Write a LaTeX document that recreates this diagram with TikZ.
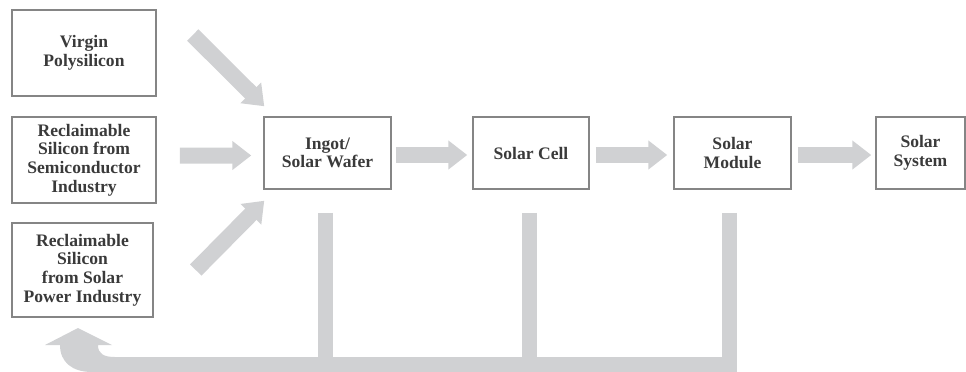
\documentclass[tikz,border=0pt]{standalone}
\usepackage{fontspec}
\setmainfont{Liberation Serif}
\definecolor{FlowGrey}{HTML}{D0D1D3}
\definecolor{BoxGrey}{HTML}{858585}
\definecolor{InkGrey}{HTML}{3A3A3A}
\usetikzlibrary{arrows.meta, positioning, calc}

\begin{document}
\begin{tikzpicture}[x=0.2mm, y=-0.2mm,
  box/.style={draw=BoxGrey, line width=0.3mm, align=center, inner sep=0pt,
    font=\bfseries\fontsize{10}{10.6}\selectfont, text=InkGrey},
  flow/.style={FlowGrey, line width=3.2mm, -{Triangle[width=5.6mm, length=3.8mm]}},
  bar/.style={FlowGrey, line width=3mm, line join=miter}]
  \useasboundingbox (0,0) rectangle (966,371);

  % sources
  \node[box, minimum width=28.8mm, minimum height=17.2mm] (virgin) at (84,53) {Virgin\\Polysilicon};
  \node[box, minimum width=28.8mm, minimum height=17.2mm] (semi) at (84,160) {Reclaimable\\Silicon from\\Semiconductor\\Industry};
  \node[box, minimum width=28.2mm, minimum height=18.8mm] (solarpw) at (82.5,270) {Reclaimable\\Silicon\\from Solar\\Power Industry};

  % value chain
  \node[box, minimum width=25.4mm, minimum height=14.4mm] (ingot) at (327.5,153) {Ingot/\\Solar Wafer};
  \node[box, minimum width=23.2mm, minimum height=14.4mm] (cell) at (531,153) {Solar Cell};
  \node[box, minimum width=23.4mm, minimum height=14.4mm] (module) at (732.5,153) {Solar\\Module};
  \node[box, minimum width=17.8mm, minimum height=14.4mm] (system) at (920.5,153) {Solar\\System};

  \draw[flow] ($(virgin.east)+(36,-18)$) -- ($(ingot.north west)+(1,-10)$);
  \draw[flow] ($(semi.east)+(23,-4.5)$) -- ($(ingot.west)+(-12,2.5)$);
  \draw[flow] ($(solarpw.east)+(42,0)$) -- ($(ingot.south west)+(1,11)$);
  \draw[flow] ($(ingot.east)+(4,2)$) -- ($(cell.west)+(-5,2)$);
  \draw[flow] ($(cell.east)+(6,2)$) -- ($(module.west)+(-6,2)$);
  \draw[flow] ($(module.east)+(6,2)$) -- ($(system.west)+(-4,2)$);

  % recycling loop
  \coordinate (turn) at (114,364.5);
  \draw[bar] ($(module.south)+(-3,23)$) |- (turn);
  \draw[bar] ($(cell.south)+(-1.5,23)$) |- (turn);
  \draw[bar] ($(ingot.south)+(-2,23)$) |- (turn);
  \fill[FlowGrey] (45,345) -- (78,328) -- (112,345) -- (98,345)
    .. controls (98,354) and (104,357) .. (115,357) -- (115,372) -- (92,372)
    .. controls (72,372) and (60,362) .. (60,345) -- cycle;
\end{tikzpicture}
\end{document}
